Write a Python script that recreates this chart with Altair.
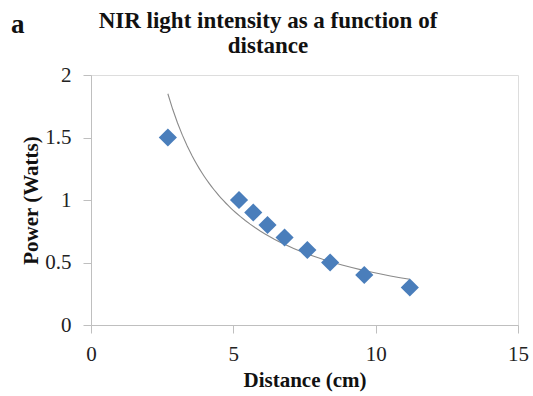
import altair as alt
import pandas as pd

distance_cm = [2.7, 5.2, 5.7, 6.2, 6.8, 7.6, 8.4, 9.6, 11.2]
power_watts = [1.5, 1.0, 0.9, 0.8, 0.7, 0.6, 0.5, 0.4, 0.3]
panel_label = ["a"]
title_text = ["NIR light intensity as a function of\ndistance"]
x_ticks = [0, 5, 10, 15]
y_ticks = [0, 0.5, 1, 1.5, 2]

df = pd.DataFrame({"x": distance_cm, "y": power_watts})
lab = pd.DataFrame({"t": panel_label})
ttl = pd.DataFrame({"t": title_text})

FONT = "Liberation Serif"
AX = "#BFBFBF"

xenc = alt.X("x:Q", scale=alt.Scale(domain=[0, 15], nice=False),
             axis=alt.Axis(values=x_ticks, title="Distance (cm)", grid=False, format="~g",
                           domainColor=AX, tickColor=AX, tickSize=8, labelFlush=False,
                           labelFont=FONT, labelFontSize=21, labelColor="#222",
                           labelBaseline="alphabetic", labelPadding=27,
                           titleFont=FONT, titleFontSize=21, titleFontWeight="bold",
                           titleColor="#111", titleBaseline="alphabetic",
                           titleX=213.5, titleY=61, titleAnchor="middle"))
yenc = alt.Y("y:Q", scale=alt.Scale(domain=[0, 2], nice=False),
             axis=alt.Axis(values=y_ticks, title="Power (Watts)", grid=False, format="~g",
                           domainColor=AX, tickColor=AX, tickSize=8, labelFlush=False,
                           labelFont=FONT, labelFontSize=21, labelColor="#222",
                           labelPadding=12, labelBaseline="middle",
                           titleFont=FONT, titleFontSize=21, titleFontWeight="bold",
                           titleColor="#111", titleAngle=-90, titleBaseline="middle",
                           titleAlign="center", titleX=-60, titleY=125))

trend = alt.Chart(df).transform_regression(
    "x", "y", method="pow", extent=[2.7, 11.2]
).mark_line(color="#8a8a8a", strokeWidth=1.1).encode(x=xenc, y=yenc)

pts = alt.Chart(df).mark_point(shape="diamond", filled=True, size=330,
                               color="#4A7EBB", opacity=1).encode(x=xenc, y=yenc)

letter = alt.Chart(lab).mark_text(font=FONT, fontSize=27, fontWeight="bold",
                                  align="left", baseline="alphabetic",
                                  color="#111").encode(
    text="t:N", x=alt.value(-80), y=alt.value(-42))

heading = alt.Chart(ttl).mark_text(font=FONT, fontSize=23, fontWeight="bold",
                                   align="center", baseline="alphabetic",
                                   lineBreak="\n", lineHeight=25,
                                   color="#111").encode(
    text="t:N", x=alt.value(177), y=alt.value(-47))

chart = alt.layer(trend, pts, letter, heading).properties(
    width=427, height=250,
    autosize=alt.AutoSizeParams(type="none"),
    padding={"left": 91, "top": 75, "right": 15, "bottom": 71},
).configure_view(stroke=None).configure(background="white")

chart.save("out.html", embed_options={"renderer": "svg", "actions": False})
